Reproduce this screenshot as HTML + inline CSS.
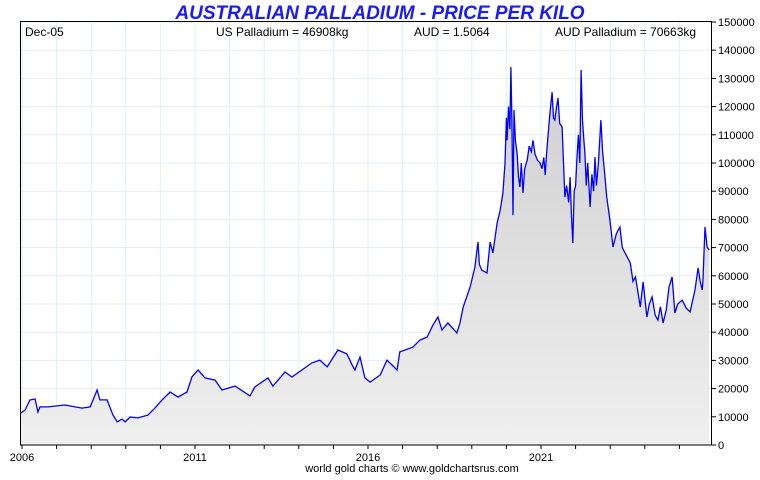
<!DOCTYPE html>
<html><head><meta charset="utf-8"><style>
body{margin:0;background:#fff;}
svg text{font-family:"Liberation Sans",sans-serif;}
</style></head><body>
<svg id="chart" width="760" height="475" viewBox="0 0 760 475" xmlns="http://www.w3.org/2000/svg">
<defs><linearGradient id="fg" x1="0" y1="0" x2="0" y2="1"><stop offset="0" stop-color="#cfcfcf"/><stop offset="1" stop-color="#efefef"/></linearGradient></defs>
<text x="380" y="19" text-anchor="middle" font-size="19" font-weight="bold" font-style="italic" fill="#1a1aff">AUSTRALIAN PALLADIUM - PRICE PER KILO</text>
<g id="grid"></g>
<g id="series"></g>
<rect x="20.5" y="21.5" width="691" height="423.5" fill="none" stroke="#000" stroke-width="1"/>
<text x="25" y="36" font-size="12">Dec-05</text>
<text x="216" y="36" font-size="12">US Palladium = 46908kg</text>
<text x="414" y="36" font-size="12">AUD = 1.5064</text>
<text x="555" y="36" font-size="12">AUD Palladium = 70663kg</text>
<g id="axes"></g>
<text x="412" y="472" text-anchor="middle" font-size="11">world gold charts © www.goldchartsrus.com</text>
</svg>
<script>
const yTicks=[0,10000,20000,30000,40000,50000,60000,70000,80000,90000,100000,110000,120000,130000,140000,150000];
const xLabels=[2006,2011,2016,2021];
const dates=[2005.94,2006.09,2006.23,2006.38,2006.46,2006.52,2006.75,2007.24,2007.73,2007.97,2008.17,2008.25,2008.46,2008.63,2008.75,2008.89,2008.98,2009.12,2009.35,2009.64,2009.84,2010.05,2010.28,2010.51,2010.77,2010.91,2011.09,2011.29,2011.58,2011.78,2012.16,2012.59,2012.73,2013.11,2013.25,2013.60,2013.80,2014.09,2014.38,2014.61,2014.82,2015.13,2015.39,2015.54,2015.62,2015.77,2015.91,2016.06,2016.35,2016.55,2016.84,2016.92,2017.30,2017.50,2017.71,2017.88,2018.02,2018.14,2018.31,2018.57,2018.66,2018.75,2018.95,2019.09,2019.18,2019.22,2019.29,2019.44,2019.53,2019.61,2019.73,2019.82,
2019.90,2019.96,2020.00,2020.02,2020.06,2020.10,2020.13,2020.16,2020.19,2020.22,2020.26,2020.31,2020.35,2020.39,2020.43,2020.48,2020.53,2020.60,2020.66,2020.72,2020.77,2020.83,2020.90,2020.97,2021.03,2021.08,2021.12,2021.16,2021.20,2021.26,2021.32,2021.36,2021.40,2021.45,2021.49,2021.54,2021.61,2021.65,2021.69,2021.74,2021.80,2021.84,2021.88,2021.92,2021.96,2022.00,2022.04,2022.08,2022.12,2022.16,2022.20,2022.24,2022.27,2022.31,2022.35,2022.42,2022.47,2022.52,2022.56,2022.60,2022.66,2022.73,2022.78,2022.85,2022.90,2022.99,2023.08,
2023.18,2023.28,2023.35,2023.43,2023.58,2023.66,2023.73,2023.87,2023.95,2024.06,2024.13,2024.21,2024.30,2024.38,2024.45,2024.53,2024.62,2024.70,2024.79,2024.87,2024.95,2025.08,2025.20,2025.31,2025.45,2025.54,2025.60,2025.66,2025.68,2025.74,2025.80,2025.86];
const prices=[11350,12400,16000,16300,11700,13500,13500,14200,13100,13500,19500,16000,16000,10600,8200,9200,8200,9900,9600,10600,13100,16000,18800,17000,18800,24100,26600,23800,23000,19500,20900,17400,20600,23800,20900,25900,24100,26600,29100,30100,27700,33700,32300,28400,26600,31200,23800,22300,24800,30100,26600,33000,34700,37200,38300,42600,45400,40800,43300,39700,43300,48900,56000,63100,72000,64000,62000,61000,72000,68100,78700,83300,
89400,100000,116000,108000,120000,112000,134000,115000,81500,118800,108000,103500,95000,91500,100000,89400,98000,101000,106000,104000,108000,103000,101000,100000,98000,102000,95700,103000,109200,118000,125100,116000,115200,120000,123000,114000,112800,100000,87900,92000,86000,95000,82000,71600,90000,92000,102100,110000,100000,133000,115000,108000,103500,92000,100000,84400,96000,90000,102100,92000,100000,115200,104000,95000,88000,79800,70200,
75000,77300,70000,68100,64500,58000,59600,48900,57800,45400,50000,52500,46000,44300,49000,43300,48000,56000,59600,46800,50000,51400,48500,47200,55000,62800,58000,55000,58000,77300,70200,69100];
const NS='http://www.w3.org/2000/svg';
const X=y=>22+(y-2006)*34.6;
const Y=v=>445-v*423/150000;
function mk(tag,attrs,parent){const e=document.createElementNS(NS,tag);for(const k in attrs)e.setAttribute(k,attrs[k]);parent.appendChild(e);return e;}
const grid=document.getElementById('grid'),axes=document.getElementById('axes'),series=document.getElementById('series');
for(let yr=2006;yr<=2025;yr++){
  const gl=mk('line',{x1:X(yr),x2:X(yr),y1:22,y2:445,stroke:'#e3eef8','stroke-width':1},grid);
  
  
  const t=mk('line',{x1:X(yr),x2:X(yr),y1:445,y2:449,stroke:'#000','stroke-width':1},axes);
  
  
}
yTicks.forEach(v=>{
  const gl=mk('line',{x1:20,x2:712,y1:Y(v),y2:Y(v),stroke:'#e3eef8','stroke-width':1},grid);
  
  
  const t=mk('line',{x1:712,x2:716,y1:Y(v),y2:Y(v),stroke:'#000','stroke-width':1},axes);
  
  
  const l=mk('text',{x:718,y:Y(v)+4,'font-size':11},axes);
  l.textContent=v;
  
  
});
xLabels.forEach(yr=>{
  const l=mk('text',{x:X(yr),y:461,'font-size':11,'text-anchor':'middle'},axes);
  l.textContent=yr;
  
  
});
let pts=dates.map((d,i)=>Math.max(21,X(d)).toFixed(1)+','+Y(prices[i]).toFixed(1));
const x0=Math.max(21,X(dates[0])),x1=X(dates[dates.length-1]);
const area=mk('polygon',{points:x0+',445 '+pts.join(' ')+' '+x1+',445',fill:'url(#fg)'},series);


const line=mk('polyline',{points:pts.join(' '),fill:'none',stroke:'#0000ff','stroke-width':1.3},series);


</script>
</body></html>
